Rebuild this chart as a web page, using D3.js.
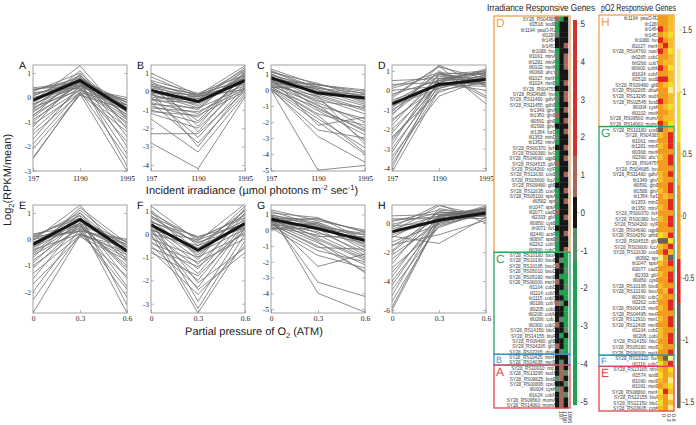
<!DOCTYPE html>
<html><head><meta charset="utf-8">
<script src="https://cdn.jsdelivr.net/npm/d3@7"></script>
<style>body{margin:0;background:#fff}#wrap{opacity:0.999}svg{display:block}svg text{text-rendering:geometricPrecision}</style>
</head><body><div id="wrap"><svg id="c" width="696" height="425"></svg></div>
<script>
// ---------------- DATA ----------------
const irrLevels = ["197","1190","1995"];
const o2Levels = ["0","0.3","0.6"];

const ticksA=[1,0,-1,-2,-3], ticksB=[1,0,-1,-2,-3,-4], ticksC=[1,0,-1,-2,-3,-4,-5], ticksD=[1,0,-1,-2,-3,-4];
const ticksE=[1,0,-1,-2], ticksF=[1,0,-1,-2,-3], ticksG=[1,0,-1,-2,-3,-4,-5], ticksH=[0,-2,-4,-6];

const meanA=[-0.1,0.7,-0.5], meanB=[0.05,-0.55,0.6], meanC=[0.75,-0.2,-0.5], meanD=[-0.7,0.3,0.55];
const meanE=[-0.2,0.75,-0.45], meanF=[0.4,-0.7,0.45], meanG=[0.7,0.1,-0.65], meanH=[-0.6,0.2,0.7];

const linesA=[[0.4,0.6,-0.2],[0.35,0.5,-0.1],[0.3,0.8,-0.4],[0.2,0.4,0.0],[0.25,1.0,-0.6],[0.1,0.7,-0.3],[0.05,0.9,-0.8],[0.0,0.5,-0.2],[-0.1,0.6,-0.5],[-0.15,1.3,-0.9],[-0.2,0.8,-0.4],[-0.25,0.45,-0.1],[-0.3,0.7,-1.1],[-0.35,0.9,-0.6],[-0.4,0.3,-0.3],[-0.45,0.6,-0.7],[-0.5,1.1,-1.3],[-0.55,0.5,-0.5],[-0.6,0.75,-0.2],[-0.7,0.4,-0.8],[-0.75,0.95,-1.6],[-0.8,0.55,-0.4],[-0.9,0.3,-1.0],[-1.0,0.65,-0.6],[-1.1,0.2,-0.3],[-1.2,0.85,-2.0],[-1.35,0.35,-0.9],[-1.5,0.15,-1.4],[-1.7,0.5,-0.7],[-1.9,0.25,-2.5],[-2.1,0.1,-0.5],[-2.5,0.2,-1.2],[-2.45,0.15,-3.0],[0.15,0.6,-2.3],[-0.05,0.4,-1.8],[0.3,0.7,-2.8]];
const linesB=[[1.0,-0.2,1.4],[0.8,-0.3,1.2],[0.6,-0.1,0.9],[0.5,-0.4,1.1],[0.4,-0.2,0.7],[0.3,-0.5,1.3],[0.2,-0.3,0.5],[0.1,-0.6,0.8],[0.0,-0.2,0.4],[0.05,-0.8,1.0],[-0.1,-0.4,0.6],[-0.2,-0.7,0.9],[-0.3,-0.5,0.3],[-0.4,-1.0,1.2],[-0.5,-0.6,0.7],[-0.6,-1.2,0.5],[-0.7,-0.9,0.2],[-0.8,-1.4,0.8],[-0.9,-1.1,0.1],[-1.0,-1.7,0.6],[-1.1,-1.3,0.0],[-1.2,-2.0,0.4],[0.2,-1.6,0.9],[0.4,-2.2,0.7],[-0.3,-2.5,0.3],[-0.6,-2.8,-0.1],[0.0,-3.0,0.2],[-1.5,-3.3,-0.2],[-2.3,-2.3,0.0],[-2.8,-4.2,-0.3],[0.6,-1.9,1.1],[-0.15,-0.9,1.0],[0.3,-0.15,0.6],[-0.45,-0.25,0.1]];
const linesC=[[1.3,0.3,0.0],[1.2,0.1,-0.2],[1.1,0.4,-0.5],[1.0,-0.1,-0.3],[0.9,0.2,-0.8],[0.85,-0.3,-1.2],[0.8,0.0,-0.6],[0.7,-0.5,-1.5],[0.65,0.3,-0.1],[0.6,-0.8,-2.0],[0.55,-0.2,-1.0],[0.5,-1.0,-1.8],[0.45,0.1,-0.4],[0.4,-0.6,-2.4],[0.35,-1.3,-2.8],[0.3,-0.4,-1.3],[0.25,-0.9,-3.2],[0.2,-1.5,-2.2],[0.15,0.2,-0.7],[0.1,-1.8,-3.6],[0.05,-1.1,-2.6],[0.0,-2.0,-4.0],[0.0,-2.5,-3.0],[0.1,-2.9,-4.5],[0.2,-1.6,-3.9],[0.5,-0.7,-1.1],[0.9,-1.2,-2.5],[1.0,-0.4,-3.4],[0.75,-2.2,-1.7],[0.0,-5.0,-4.7],[1.15,0.0,-0.9],[0.6,0.35,-0.25]];
const linesD=[[0.5,0.6,0.7],[0.3,0.4,0.9],[0.1,0.8,0.5],[0.0,0.2,0.8],[-0.2,0.5,1.0],[-0.3,1.2,0.6],[-0.5,0.3,0.4],[-0.6,0.7,0.9],[-0.8,0.1,0.7],[-0.9,0.9,0.3],[-1.0,0.4,1.1],[-1.2,0.6,0.5],[-1.3,1.3,0.2],[-1.5,0.2,0.8],[-1.6,0.5,0.6],[-1.8,0.8,1.0],[-2.0,0.3,0.4],[-2.2,0.6,0.9],[-2.4,-0.1,0.7],[-2.6,0.4,0.3],[-2.8,0.9,0.8],[-3.0,0.2,0.5],[-3.2,0.5,1.0],[-3.4,-0.3,0.6],[-3.6,0.3,0.2],[-3.8,0.1,0.7],[-4.0,0.6,0.9],[-4.2,0.0,0.4],[-0.4,1.25,-0.7],[-1.1,1.0,-0.3],[-2.5,0.35,0.0],[0.2,0.9,-0.4]];
const linesE=[[0.2,0.5,-0.1],[0.15,0.8,-0.3],[0.1,0.3,0.0],[0.05,1.0,-0.5],[0.0,0.6,-0.2],[-0.05,1.3,-0.8],[-0.1,0.4,-0.4],[-0.15,0.9,-0.6],[-0.2,0.7,-0.1],[-0.3,0.5,-1.0],[-0.35,1.1,-0.3],[-0.4,0.2,-0.7],[-0.5,0.8,-0.5],[-0.55,0.6,-1.2],[-0.6,0.35,-0.2],[-0.7,1.0,-0.9],[-0.8,0.45,-0.4],[-0.9,0.75,-1.5],[-1.0,0.25,-0.6],[-1.1,0.55,-1.1],[-1.3,0.15,-0.3],[-1.5,0.65,-1.8],[-1.7,0.1,-0.8],[-2.0,0.4,-2.2],[-2.3,0.2,-0.5],[-2.8,0.15,-1.4],[0.1,0.9,-2.5],[-0.25,0.6,-2.8],[0.0,0.3,-1.9],[-0.45,1.2,-0.15]];
const linesF=[[1.2,-0.3,1.3],[1.0,-0.5,1.0],[0.9,-0.2,0.8],[0.8,-0.7,1.2],[0.7,-0.4,0.6],[0.6,-0.9,0.9],[0.5,-0.1,0.4],[0.4,-1.1,1.1],[0.35,-0.6,0.5],[0.3,-1.3,0.7],[0.2,-0.8,0.2],[0.1,-1.5,0.9],[0.0,-0.5,0.3],[-0.1,-1.7,0.6],[-0.2,-1.0,0.0],[-0.3,-2.0,0.5],[-0.4,-1.2,-0.2],[-0.5,-2.3,0.4],[-0.6,-1.4,0.1],[-0.7,-2.6,-0.5],[-0.8,-1.8,0.2],[0.6,-2.9,0.3],[0.2,-3.2,0.0],[0.0,-3.4,-0.3],[0.45,-2.1,-0.6],[0.25,-2.4,-0.8],[0.75,-0.15,0.7],[0.55,-0.35,0.25],[0.15,-0.25,0.45],[0.95,-1.0,1.05]];
const linesG=[[1.3,0.6,0.0],[1.2,0.3,-0.3],[1.1,0.8,-0.6],[1.0,0.2,-0.2],[0.95,0.5,-1.0],[0.9,0.0,-0.5],[0.85,0.4,-1.3],[0.8,-0.2,-0.8],[0.75,0.7,-0.1],[0.7,0.1,-1.6],[0.65,-0.4,-0.4],[0.6,0.3,-1.1],[0.55,-0.6,-1.9],[0.5,0.2,-0.7],[0.45,-0.8,-2.2],[0.4,-0.1,-1.4],[0.35,-1.0,-2.6],[0.3,0.4,-0.9],[0.25,-1.3,-2.0],[0.2,-0.3,-1.7],[0.15,-1.6,-2.4],[0.1,0.1,-0.3],[0.6,-2.3,-1.5],[0.8,-3.3,-4.2],[1.0,-4.0,-5.2],[0.4,-1.1,-1.2],[0.7,-0.7,-2.7],[0.05,0.5,-0.6],[0.55,0.75,-0.15],[0.9,-0.5,-1.8]];
const linesH=[[0.5,0.6,0.8],[0.3,0.3,1.0],[0.1,0.9,0.6],[-0.2,0.1,0.9],[-0.4,0.5,0.7],[-0.6,1.2,0.5],[-0.8,0.2,1.1],[-1.0,0.7,0.8],[-1.3,-0.1,0.6],[-1.6,0.4,1.0],[-1.9,0.8,0.4],[-2.2,0.0,0.9],[-2.5,0.3,0.7],[-2.8,1.0,0.5],[-3.1,-0.3,0.8],[-3.4,0.2,1.2],[-3.7,0.6,0.6],[-4.0,0.1,0.9],[-4.3,0.4,0.3],[-4.6,-0.2,0.7],[-5.0,0.5,1.0],[-5.4,0.0,0.6],[-5.8,0.3,0.8],[-6.0,0.2,0.5],[-0.3,1.3,0.0],[-0.9,-1.4,0.4],[-1.5,-0.8,0.2],[0.2,0.45,0.95],[-0.1,0.75,0.65],[-2.0,0.55,1.05]];

// Irradiance responsive genes (sections D, C, B, A)
const irrGenesD=["SY28_RS04385","tll1518: sodB","tlr1194: psaO-R2","tll1289","tlr1454","tlr1453","tlr1088: hvd","tll1061: mtnA","tlr1281: mtnP","tll0102: metK","tll0368: ahcY","tll1027: metH","tll1024: metE","SY28_RS04755","SY28_RS04685: hvd","SY28_RS11480: gdhA","SY28_RS11455: gdhB","tlr1349: glnA","tlr1350: glnB","tll0591: glnB","tll1588: glnA","tlr1354: furD","tll1353: mtnD","tlr1352: mtnA","SY28_RS00370: livH","SY28_RS00380: livG","SY28_RS04690: ugpB","SY28_RS04515: gltA","SY28_RS04260: xylR","SY28_RS11630: coxB","SY28_RS03600: fccA","SY28_RS09480: gltB","SY28_RS11635: coxA","SY28_RS05100: spsA","tll0582: sps","tlr1047: spsA","tll2077: cadD","tll2333: gltA","tll0850: cysE","tlr0071: ilvC","tll2440: acsF","tll0897: spsB","tll2262: cobS","tll0390: cobQ"];
const irrGenesC=["SY28_RS10180: bxoA","SY28_RS10190: bxoB","SY28_RS10195: bxoC","SY28_RS05010: bxoD","SY28_RS05180: metE","SY28_RS06000: metH","tll1104: cobD","tll1114: cobS","tlr1115: cobO","tll0186: cobT","tll0205: cobL","tll0208: cobM","tll0266: cobJ","tll0300: cobQ","SY28_RS14150: btuC","SY28_RS14155: btuF","SY28_RS09480: gltB","SY28_RS04265: gltS","SY28_RS02265: dnaK"];
const irrGenesB=["SY28_RS10425: metH","SY28_RS04035: metE"];
const irrGenesA=["SY28_RS10010: nrdJ","SY28_RS13295: sodX","SY28_RS08825: bcsB","SY28_RS00895: cpxA","tll0004: cysK","tll1624: cobN","SY28_RS09560: momA","SY28_RS14060: momA"];
const irrValsD=[[1.0,-2.1,0],[-2.2,0.1,0],[-1.9,0,0.1],[-0.8,0,0],[0,0.1,0],[0.1,0,0.6],[-2.0,0,0.1],[-0.9,0,1.0],[-2.3,0.1,0.8],[-1.8,0,0.6],[-0.7,0,0],[-2.1,0.1,0],[-2.0,0,0.7],[0.1,0,0],[-2.4,0,1.1],[-0.8,0.1,0.8],[-1.9,0,0],[-2.2,0,0.6],[0.8,0.1,0],[-2.0,0,0.7],[0,0,0.1],[-2.1,0.1,1.0],[-0.9,0,0],[-1.8,0,0.1],[0,0.1,0.7],[-2.3,0,0],[-2.0,0,0.8],[0.9,0.1,0],[-1.9,0,0],[-0.8,0,0.6],[-2.2,0.1,0],[0.1,0,0],[-2.0,0,0.7],[-2.1,0,0.1],[-0.7,0.1,0.9],[-1.9,0,0],[0.8,0,0],[-2.3,0.1,0.6],[-2.0,0,0],[0,0,0.1],[-2.2,0,0.8],[-0.8,0.1,0],[-1.9,0,0],[-2.1,0,0.7]];
const irrValsC=[[0,0.1,-2.0],[0.1,-0.8,-2.2],[0.8,0,-1.9],[0,0.1,-0.8],[0.1,-2.0,-2.1],[0.9,0,-2.0],[0,0.1,-0.9],[0,-2.1,-1.9],[0.1,0,-2.2],[0.8,-0.8,0],[0,0.1,-2.0],[0.1,0,-2.1],[0,-0.9,-1.9],[0.8,0,-2.0],[0,0.1,-0.8],[0.1,-2.0,0.1],[0,0,-2.2],[0.9,0.1,-2.0],[0,-0.8,-1.9]];
const irrValsB=[[0,-0.3,0.3],[0.1,-0.8,0.2]];
const irrValsA=[[0,0.8,0],[0.1,0.9,-0.8],[-0.8,0.8,0.1],[0,0.1,-0.9],[-0.9,0.8,0],[0.1,0.9,-0.8],[0,0.8,0.1],[0.1,0.9,0]];

// pO2 responsive genes (sections H, G, F, E)
const o2GenesH=["tlr1194: psaO-R2","tlr1289","tlr1454","tlr1453","tlr1088: hvd","tll1027: metH","SY28_RS04760: nasA","tlr0265: cobC","tlr0266: cobT","tll0900: cobM","tll1624: cobN","tll1518: sodB","SY28_RS09480: gltB","SY28_RS02265: dnaK","SY28_RS13295: sodX","SY28_RS02545: bcsB","tll0004: cysK","tll0102: metK","SY28_RS09560: momA","SY28_RS14060: momA"];
const o2GenesG=["SY28_RS10180: coxB","SY28_RS04385","tll1061: mtnA","tlr1281: mtnP","tll0368: metK","tll2390: ahcY","SY28_RS04755","SY28_RS04685: hvd","SY28_RS11480: gdhA","tlr1349: glnA","tll0591: glnB","tll1588: glnA","tlr1354: furD","tlr1353: mtnD","tlr1350: mtnA","SY28_RS00370: livH","SY28_RS00380: livG","SY28_RS04260: xylR","SY28_RS04690: ugpB","SY28_RS04250: amtB","SY28_RS04515: gltA","SY28_RS03600: fccA","SY28_RS11630: coxB","tll0582: sps","tlr1047: spsA","tll2077: cadD","tll2333: gltA","tll0850: cysE","SY28_RS10195: bxoB","SY28_RS10190: bxoA","tll0390: cobQ","tll2262: cobS","SY28_RS00415: metE","SY28_RS04495: metF","SY28_RS12910: metC","SY28_RS12405: metB","tll1104: cobD","tll0205: cobL","SY28_RS14150: btuC","SY28_RS05180: metE","SY28_RS06000: metH"];
const o2GenesF=["SY28_RS13120: fluA","tll1116: cobO"];
const o2GenesE=["SY28_RS13165: ntnA","tll1574: sodB","tll1090: metE","tll1091: metE","SY28_RS08860: metH","SY28_RS12155: btuF","SY28_RS12150: btuC","SY28_RS03605: cysK"];
const o2ValsH=[[0,0.1,0.3],[-0.1,0,0.4],[-0.5,0,0.3],[0,0.4,0.8],[-0.5,0,0.3],[0,-0.5,0.4],[-0.5,0.1,0.8],[0,0,0.5],[0,0.4,0.3],[-0.5,0.1,0.9],[0,0.1,0.4],[-0.5,-0.5,0.3],[0,0.4,0.9],[-0.1,0,1.1],[0,0.1,0.4],[-0.5,0,0.3],[0,0.5,0.9],[-0.1,0.1,0.4],[0,0.4,0.3],[-0.5,0,0.8]];
const o2ValsG=[[-1,0,0.5],[0.3,-0.1,-0.5],[0,0.1,-0.5],[0.4,0,-0.5],[0,0,0],[0.3,0,-0.5],[0.1,0.1,-0.5],[0,0,0],[0.4,0,-0.5],[0.5,0,0],[0,-0.1,-0.5],[0.3,0,-0.5],[0,0.4,0],[0,0,-0.5],[0.4,0,-0.5],[0,0,0],[0.3,0.1,-0.5],[0,0,-0.5],[0.1,0,0],[0.9,0.4,-0.5],[-1,-1,0.8],[0.4,0,-0.5],[0,-0.5,0.4],[1.1,0.1,-1],[0.3,0,-0.5],[0,0,0],[0.4,0.1,-0.5],[0,0,-0.5],[0.3,0,0.1],[0,0.4,-0.5],[0.4,0,0],[0,0,-0.5],[0.3,0.1,-0.5],[0,0,0],[0.5,0,-0.5],[0,0.1,-0.5],[0.3,0,0],[0.4,0,-0.5],[0,0.1,-0.5],[0.3,0,0],[0,0,-0.5]];
const o2ValsF=[[0,-1,1.1],[0.8,0.1,-0.5]];
const o2ValsE=[[0.4,0,0.8],[0.9,0,0.4],[0.4,0,1.1],[0,0.3,0.9],[0.9,-0.5,0.4],[0.4,0,1.1],[0.9,0,0.4],[0.4,0.1,1.1]];

const irrBarTicks=[5,4,3,2,1,0,-1,-2,-3,-4,-5];
const o2BarTicks=[1.5,1,0.5,0,-0.5,-1,-1.5];

// ---------------- DRAW ----------------
const svg=d3.select("#c");
svg.append("rect").attr("width",696).attr("height",425).attr("fill","#fff");
const fmt=d=>(d<0?"-":"")+Math.abs(d);
const sans="'Liberation Sans',Arial,sans-serif";

const panels=[
 {key:"A",lines:linesA,mean:meanA,ticks:ticksA,dom:[-3,1.33],cats:irrLevels,x0:33,x1:127,y0:65,y1:171,pad:5},
 {key:"B",lines:linesB,mean:meanB,ticks:ticksB,dom:[-4.33,1.44],cats:irrLevels,x0:151,x1:245,y0:65,y1:171,pad:5},
 {key:"C",lines:linesC,mean:meanC,ticks:ticksC,dom:[-5.05,1.55],cats:irrLevels,x0:271,x1:365,y0:65,y1:171,pad:5},
 {key:"D",lines:linesD,mean:meanD,ticks:ticksD,dom:[-4.15,1.3],cats:irrLevels,x0:392,x1:486,y0:65,y1:171,pad:5},
 {key:"E",lines:linesE,mean:meanE,ticks:ticksE,dom:[-2.8,1.3],cats:o2Levels,x0:33,x1:127,y0:205,y1:313,pad:3},
 {key:"F",lines:linesF,mean:meanF,ticks:ticksF,dom:[-3.4,1.25],cats:o2Levels,x0:151,x1:245,y0:205,y1:313,pad:3},
 {key:"G",lines:linesG,mean:meanG,ticks:ticksG,dom:[-5.25,1.6],cats:o2Levels,x0:271,x1:365,y0:205,y1:313,pad:3},
 {key:"H",lines:linesH,mean:meanH,ticks:ticksH,dom:[-6.2,1.25],cats:o2Levels,x0:392,x1:486,y0:205,y1:313,pad:3}
];
const defs=svg.append("defs");
function styleAxis(ax){
  ax.attr("fill","#222");
  ax.select(".domain").remove();
  ax.selectAll(".tick line").attr("stroke","#888").attr("stroke-width",0.6);
  ax.selectAll("text").attr("font-family","'Liberation Serif','Times New Roman',serif").attr("font-size",7.5).attr("fill","#222");
}
panels.forEach(p=>{
  const x=d3.scalePoint().domain(p.cats).range([p.x0,p.x1]);
  const y=d3.scaleLinear().domain(p.dom).range([p.y1,p.y0]);
  defs.append("clipPath").attr("id","clip"+p.key).append("rect")
    .attr("x",p.x0).attr("y",p.y0).attr("width",p.x1-p.x0).attr("height",p.y1-p.y0);
  const line=d3.line().x((d,i)=>x(p.cats[i])).y(d=>y(d));
  const g=svg.append("g");
  const lg=g.append("g").attr("clip-path",`url(#clip${p.key})`);
  lg.selectAll("path.gl").data(p.lines).join("path").attr("class","gl")
    .attr("d",line).attr("fill","none").attr("stroke","#707070").attr("stroke-width",0.8);
  lg.append("path").attr("d",line(p.mean)).attr("fill","none").attr("stroke","#151515")
    .attr("stroke-width",3).attr("stroke-linejoin","round");
  g.append("rect").attr("x",p.x0).attr("y",p.y0).attr("width",p.x1-p.x0).attr("height",p.y1-p.y0)
    .attr("fill","none").attr("stroke","#8a8a8a").attr("stroke-width",0.8);
  const axL=g.append("g").attr("transform",`translate(${p.x0},0)`)
    .call(d3.axisLeft(y).tickValues(p.ticks).tickSize(-3).tickPadding(2).tickFormat(fmt));
  styleAxis(axL);
  const axR=g.append("g").attr("transform",`translate(${p.x1},0)`)
    .call(d3.axisRight(y).tickValues(p.ticks).tickSize(-3).tickFormat(""));
  styleAxis(axR);
  const axB=g.append("g").attr("transform",`translate(0,${p.y1})`)
    .call(d3.axisBottom(x).tickSize(-3).tickPadding(p.pad));
  styleAxis(axB);
  g.append("text").attr("x",p.x0-14).attr("y",p.y0+4).text(p.key)
    .attr("font-family",sans).attr("font-size",10.5).attr("fill","#111");
});

// axis titles
const t1=svg.append("text").attr("x",252).attr("y",194).attr("text-anchor","middle")
  .attr("font-family",sans).attr("font-size",11).attr("fill","#222");
t1.append("tspan").text("Incident irradiance (µmol photons m");
t1.append("tspan").attr("dy",-4).attr("font-size",7.5).text("-2");
t1.append("tspan").attr("dy",4).text(" sec");
t1.append("tspan").attr("dy",-4).attr("font-size",7.5).text("-1");
t1.append("tspan").attr("dy",4).text(")");
const t2=svg.append("text").attr("x",254).attr("y",335).attr("text-anchor","middle")
  .attr("font-family",sans).attr("font-size",11).attr("fill","#222");
t2.append("tspan").text("Partial pressure of O");
t2.append("tspan").attr("dy",3).attr("font-size",7.5).text("2");
t2.append("tspan").attr("dy",-3).text(" (ATM)");
const t3=svg.append("text").attr("transform","translate(11,180) rotate(-90)").attr("text-anchor","middle")
  .attr("font-family",sans).attr("font-size",11).attr("fill","#222");
t3.append("tspan").text("Log");
t3.append("tspan").attr("dy",3).attr("font-size",7.5).text("2");
t3.append("tspan").attr("dy",-3).text("(RPKM/mean)");

// ---------------- HEATMAPS ----------------
const cmapIrr=d3.scaleThreshold().domain([-1.3,-0.4,0.4,1.5])
  .range(["#22a152","#5c8b6a","#161616","#a5695b","#cc3535"]);
const cmapO2=d3.scaleThreshold().domain([-0.7,-0.35,0.25,0.6,1.0,1.35])
  .range(["#6f5e57","#e2261f","#f29b1f","#f6bd2a","#f3df26","#f7ee8c","#fbf9e8"]);

function heatmap(cfg){
  const genes=cfg.sections.flatMap(s=>s.genes);
  const vals=cfg.sections.flatMap(s=>s.vals);
  const y=d3.scaleBand().domain(d3.range(genes.length)).range([cfg.top,cfg.bottom]);
  const x=d3.scaleBand().domain(cfg.cols).range([cfg.cx0,cfg.cx1]);
  const g=svg.append("g");
  g.selectAll("text.gene").data(genes).join("text").attr("class","gene")
    .attr("transform",(d,i)=>`translate(${cfg.cx0+1},${y(i)+y.bandwidth()-0.6}) scale(0.8,1)`)
    .attr("text-anchor","end").attr("font-family",sans).attr("font-size",5.8).attr("fill","#333").text(d=>d);
  vals.forEach((row,i)=>{
    g.selectAll(null).data(row).join("rect")
      .attr("x",(d,j)=>x(cfg.cols[j])).attr("y",y(i))
      .attr("width",x.bandwidth()+0.3).attr("height",y.bandwidth()+0.3)
      .attr("fill",d=>cfg.cmap(d));
  });
  let start=0;
  cfg.sections.forEach(s=>{
    const n=s.genes.length;
    const y0=y(start), y1=y(start+n-1)+y.bandwidth();
    g.append("rect").attr("x",cfg.bx0).attr("y",y0).attr("width",cfg.bx1-cfg.bx0).attr("height",y1-y0)
      .attr("fill","none").attr("stroke",s.color).attr("stroke-width",1.3);
    g.append("text").attr("x",cfg.bx0+2).attr("y",y0+(n>2?10.5:9)).text(s.name)
      .attr("font-family",sans).attr("font-size",n>2?12:9).attr("fill",s.color);
    start+=n;
  });
  g.selectAll("text.col").data(cfg.cols).join("text").attr("class","col")
    .attr("transform",d=>`translate(${x(d)+x.bandwidth()/2+1.8},${cfg.bottom+3}) rotate(90)`)
    .attr("font-family",sans).attr("font-size",5.5).attr("fill","#333").text(d=>d);
  // title, horizontally condensed to the target width with a scale transform
  const tt=g.append("text").attr("font-family",sans).attr("font-size",10).attr("fill","#222").text(cfg.title);
  const natural=tt.node().getComputedTextLength();
  const sx=Math.min(1,cfg.tw/natural);
  tt.attr("transform",`translate(${cfg.tx},${cfg.ty}) scale(${sx},1)`);
  const cb=d3.scaleLinear().domain(cfg.cbDom).range([cfg.cbTop,cfg.cbBottom]);
  const steps=d3.range(cfg.cbTop,cfg.cbBottom,1);
  g.selectAll(null).data(steps).join("rect").attr("x",cfg.cbx).attr("y",d=>d).attr("width",cfg.cbw).attr("height",1.2)
    .attr("fill",d=>cfg.cmap(cb.invert(d+0.5)));
  const lx=cfg.cbx+cfg.cbw+cfg.lgap;
  g.selectAll(null).data(cfg.cbTicks).join("text")
    .attr("transform",d=>`translate(${lx},${cb(d)+3.3}) scale(${cfg.lsx},1)`)
    .attr("font-family",sans).attr("font-size",9.5).attr("fill","#333")
    .text(fmt);
  g.selectAll(null).data(cfg.cbTicks).join("line").attr("x1",cfg.cbx+cfg.cbw).attr("x2",cfg.cbx+cfg.cbw+1.5)
    .attr("y1",d=>cb(d)).attr("y2",d=>cb(d)).attr("stroke","#777").attr("stroke-width",0.6);
}

heatmap({
  title:"Irradiance Responsive Genes",tx:487,ty:10.5,tw:108,
  cols:irrLevels,cx0:555,cx1:568,top:16,bottom:408,bx0:494,bx1:570,
  cmap:cmapIrr,
  sections:[
    {name:"D",genes:irrGenesD,vals:irrValsD,color:"#f0a04a"},
    {name:"C",genes:irrGenesC,vals:irrValsC,color:"#2ba063"},
    {name:"B",genes:irrGenesB,vals:irrValsB,color:"#3b8fd3"},
    {name:"A",genes:irrGenesA,vals:irrValsA,color:"#e0464a"}],
  cbx:573,cbw:4,cbTop:20,cbBottom:405,cbDom:[5.1,-5.1],cbTicks:irrBarTicks,lgap:3.5,lsx:0.85
});
heatmap({
  title:"pO2 Responsive Genes",tx:601,ty:10.5,tw:75,
  cols:o2Levels,cx0:658,cx1:673,top:15,bottom:411,bx0:599,bx1:674,
  cmap:cmapO2,
  sections:[
    {name:"H",genes:o2GenesH,vals:o2ValsH,color:"#f0a04a"},
    {name:"G",genes:o2GenesG,vals:o2ValsG,color:"#2ba063"},
    {name:"F",genes:o2GenesF,vals:o2ValsF,color:"#3b8fd3"},
    {name:"E",genes:o2GenesE,vals:o2ValsE,color:"#e0464a"}],
  cbx:677,cbw:3.5,cbTop:22,cbBottom:408,cbDom:[1.565,-1.55],cbTicks:o2BarTicks,lgap:2,lsx:0.72
});
</script></body></html>
